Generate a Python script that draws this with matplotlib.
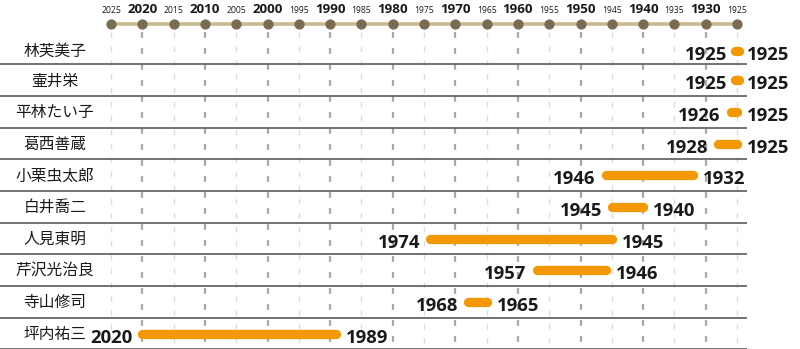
import matplotlib.pyplot as plt
import numpy as np

# data
names = ['林芙美子', '壷井栄', '平林たい子', '葛西善蔵', '小栗虫太郎',
         '白井喬二', '人見東明', '芹沢光治良', '寺山修司', '坪内祐三']
start_years = [1925, 1925, 1926, 1928, 1946, 1945, 1974, 1957, 1968, 2020]
end_years = [1925, 1925, 1925, 1925, 1932, 1940, 1945, 1946, 1965, 1989]
tick_years = list(range(2025, 1920, -5))

ORANGE = '#f39800'
TEXT = '#1a1a1a'
CJK = ['Noto Sans CJK JP', 'DejaVu Sans']
NUM = ['Open Sans', 'DejaVu Sans']

fig = plt.figure(figsize=(8, 3.49), dpi=100)
ax = fig.add_axes([0, 0, 1, 1])
# pixel layout: 2025 at x=111, 1925 at x=737
px_per_year = (737 - 111) / 100
ax.set_xlim(2025 + 111 / px_per_year, 1925 - (800 - 737) / px_per_year)
ax.set_ylim(349, 0)
ax.axis('off')

# row geometry (pixels)
sep0, row_h = 64.3, 31.65
seps = [sep0 + row_h * k for k in range(len(names))]
centers = [50.8] + [sep0 + row_h * (k - 0.5) + 0.3 for k in range(1, len(names))]

# vertical dashed guides
for yr in tick_years:
    if yr % 10 == 0:
        ax.plot([yr, yr], [32, 349], color='#a8a8a8', lw=1.6,
                linestyle=(0, (2.6, 4.6)), zorder=1)
    else:
        ax.plot([yr, yr], [32, 349], color='#dcdcdc', lw=1.0,
                linestyle=(0, (4, 6)), zorder=1)

# top timeline
ax.plot([tick_years[0], tick_years[-1]], [24, 24], color='#c9b991', lw=2.6,
        zorder=2, solid_capstyle='butt')
ax.plot(tick_years, [24] * len(tick_years), 'o', color='#7a6b55', ms=7.4,
        mec='none', zorder=3)
for yr in tick_years:
    if yr % 10 == 0:
        ax.text(yr, 12.8, str(yr), ha='center', va='baseline', fontsize=9.6,
                fontweight='bold', color=TEXT, family=NUM)
    else:
        ax.text(yr, 12.8, str(yr), ha='center', va='baseline', fontsize=6.2,
                color=TEXT, family=NUM)

# row separators
x_line_end = 1925 - 10 / px_per_year
for y in seps:
    ax.plot([ax.get_xlim()[0], x_line_end], [y, y], color='#5a5a5a', lw=1.2,
            zorder=4, solid_capstyle='butt')

# bars and labels
off = 10 / px_per_year
for name, s, e, y in zip(names, start_years, end_years, centers):
    ax.text(55 / px_per_year * -1 + ax.get_xlim()[0], y + 0.5, name,
            ha='center', va='center', fontsize=11.3, color=TEXT, family=CJK)
    a, b = s, e
    if a - b < 0.6:
        mid = (a + b) / 2
        a, b = mid + 0.35, mid - 0.35
    ax.plot([a, b], [y, y], color=ORANGE, lw=6.7, solid_capstyle='round',
            zorder=5)
    ax.text(s + off, y + 9, str(s), ha='right', va='baseline', fontsize=13.3,
            fontweight='bold', color=TEXT, family=NUM, zorder=6)
    ax.text(e - off, y + 9, str(e), ha='left', va='baseline', fontsize=13.3,
            fontweight='bold', color=TEXT, family=NUM, zorder=6)

fig.savefig('out.png', dpi=100, facecolor='white')
